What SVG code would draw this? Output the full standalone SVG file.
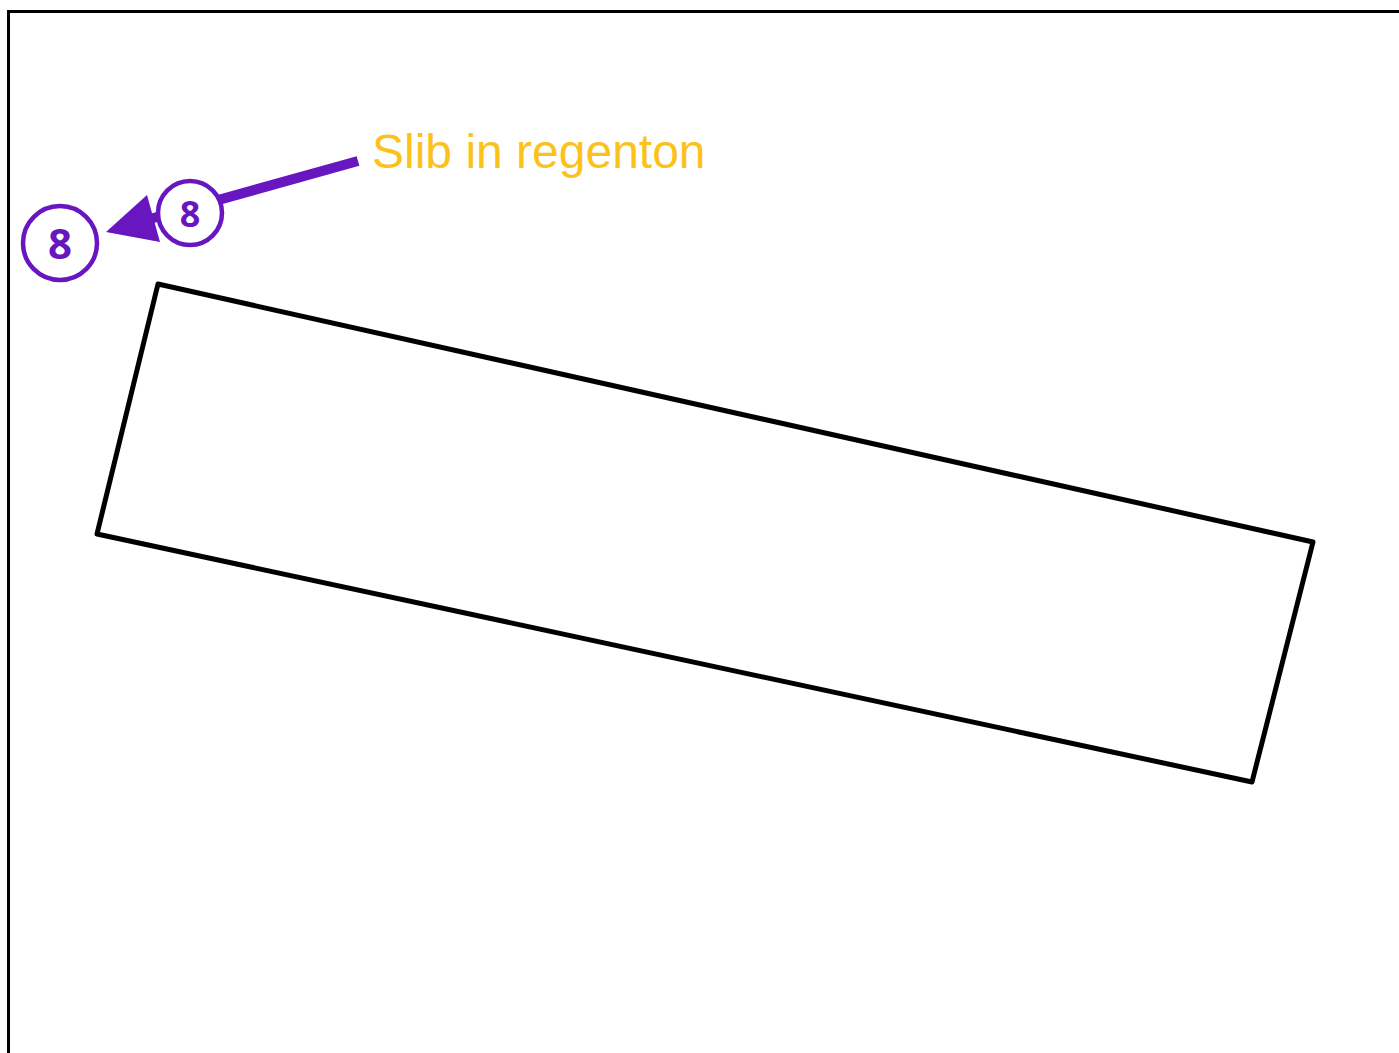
<svg xmlns="http://www.w3.org/2000/svg" width="1399" height="1053" viewBox="0 0 1399 1053">
<style>
.frame{fill:none;stroke:#000;stroke-width:3}
.plot{fill:none;stroke:#000;stroke-width:5;stroke-linejoin:round}
.badge circle{fill:#fff;stroke:#6816C0;stroke-width:4.5}
.badge text{font-family:"Noto Sans","DejaVu Sans",sans-serif;font-weight:bold;fill:#6816C0;text-anchor:middle}
.label{font-family:"Liberation Sans",Arial,sans-serif;font-size:48px;fill:#FBC21B}
</style>
<rect width="1399" height="1053" fill="#fff"/>
<path class="frame" d="M8.5,1053 V11.5 H1399"/>
<g id="plot">
<polygon class="plot" points="158,284 1313,542 1252,782 97,534"/>
</g>
<g id="connectors">
<line x1="358" y1="161" x2="150" y2="219" stroke="#6816C0" stroke-width="10"/>
<polygon points="106,232 147,195 160,242" fill="#6816C0"/>
</g>
<g id="badge-8-a" class="badge">
<circle cx="60" cy="243" r="37"/>
<text x="60" y="259" font-size="42">8</text>
</g>
<g id="badge-8-b" class="badge">
<circle cx="190" cy="213" r="32"/>
<text x="190" y="226.5" font-size="36">8</text>
</g>
<g id="label">
<text class="label" x="372" y="168">Slib in regenton</text>
</g>
</svg>
